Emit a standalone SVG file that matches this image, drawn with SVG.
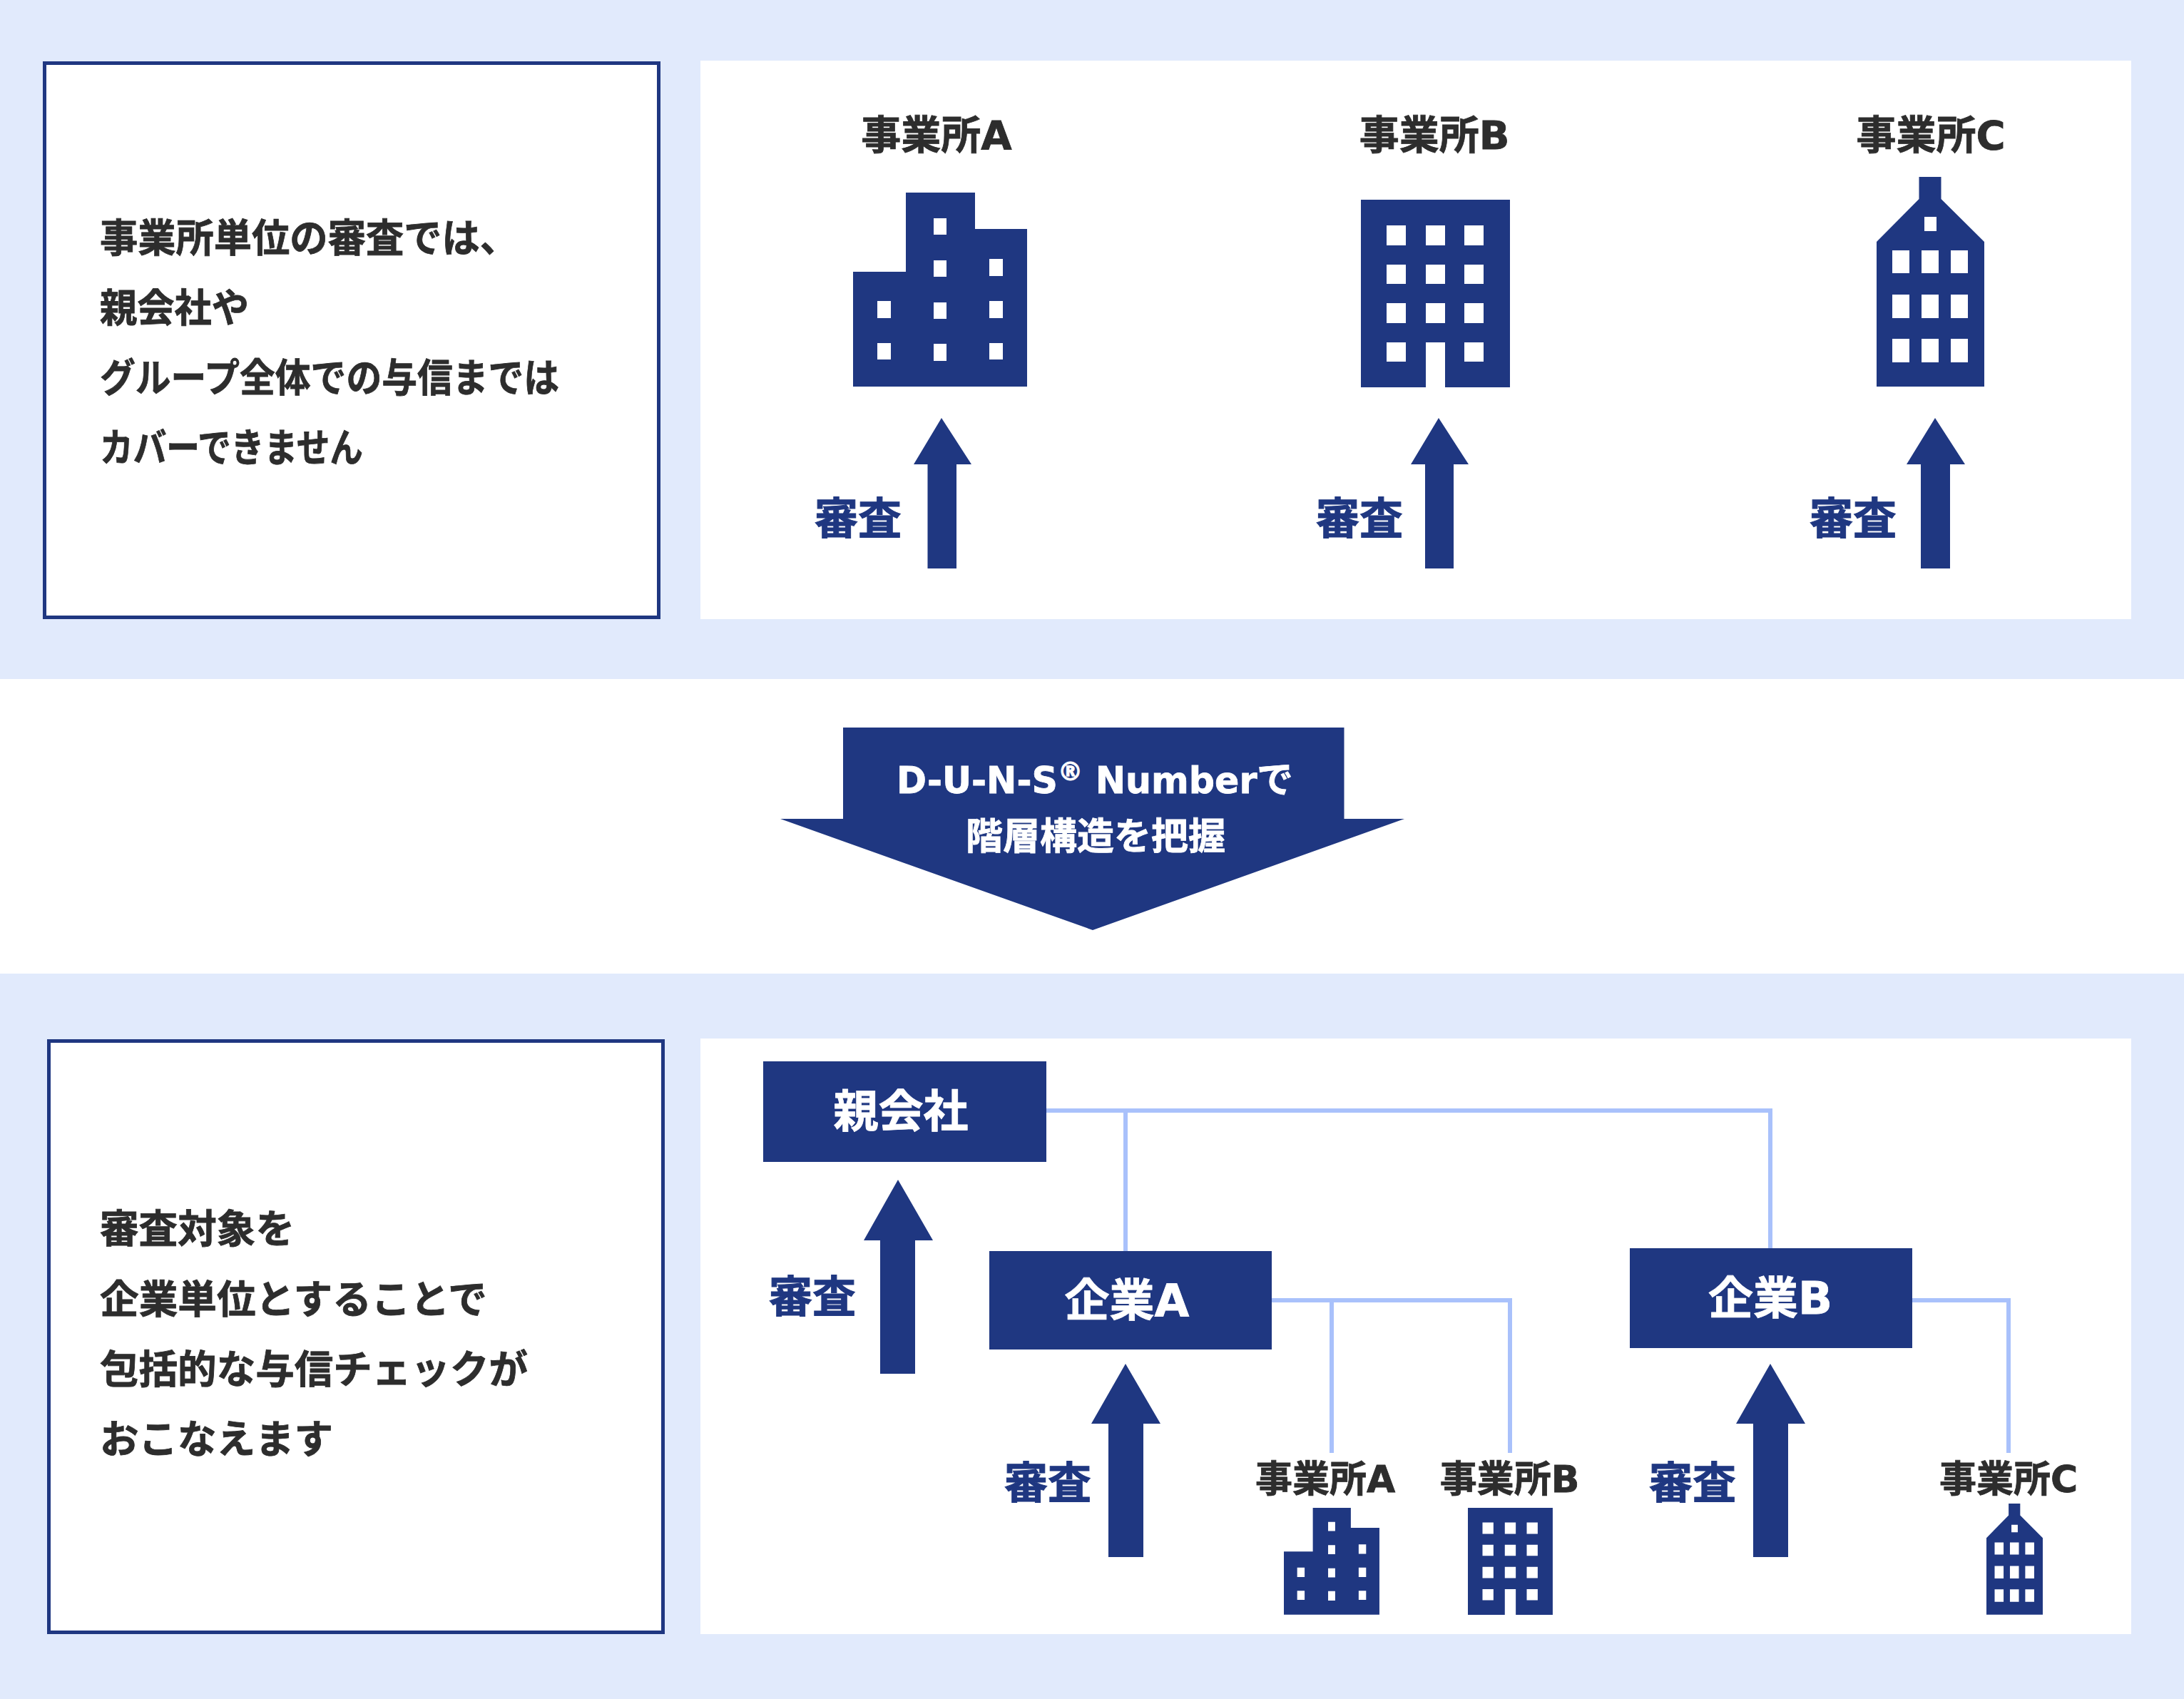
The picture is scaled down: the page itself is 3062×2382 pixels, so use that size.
<svg xmlns="http://www.w3.org/2000/svg" width="3062" height="2382" viewBox="0 0 3062 2382">
<style>
text{font-family:"DejaVu Sans","Noto Sans CJK JP",sans-serif;font-weight:700}
.t{font-size:55px;fill:#2d2d2d;stroke:#2d2d2d;stroke-width:.8}
.l{font-size:56px;fill:#2d2d2d;text-anchor:middle;stroke:#2d2d2d;stroke-width:.8}
.s{font-size:52px;fill:#2d2d2d;text-anchor:middle;stroke:#2d2d2d;stroke-width:.8}
.r{font-size:61px;fill:#1f3781;text-anchor:middle;stroke:#1f3781;stroke-width:1}
.b{font-size:63px;fill:#fff;text-anchor:middle;stroke:#fff;stroke-width:.8}
.a{font-size:52px;fill:#fff;text-anchor:middle;stroke:#fff;stroke-width:.8}
.band{fill:#e1eafc}
.panel{fill:#fff}
.box{fill:#fff;stroke:#1f3781;stroke-width:5}
.n{fill:#1f3781}
.w{fill:#fff}
.c{fill:none;stroke:#a9c1fb;stroke-width:6}
</style>
<defs>
<g id="bldA"><path class="n" d="M1196 381H1270V270H1367V321H1440V542H1196Z"/><path class="w" d="M1309 306h18v23h-18zM1309 365h18v23h-18zM1387 363h19v24h-19zM1230 422h19v24h-19zM1309 424h18v23h-18zM1387 422h19v24h-19zM1230 481h19v23h-19zM1309 482h18v24h-18zM1387 481h19v23h-19z"/></g>
<g id="bldB"><path class="n" d="M1908 280H2117V543H2026V480H1999V543H1908Z"/><path class="w" d="M1944 316h27v28h-27zM1999 316h27v28h-27zM2053 316h27v28h-27zM1944 371h27v27h-27zM1999 371h27v27h-27zM2053 371h27v27h-27zM1944 425h27v28h-27zM1999 425h27v28h-27zM2053 425h27v28h-27zM1944 480h27v27h-27zM2053 480h27v27h-27z"/></g>
<g id="bldC"><path class="n" d="M2690.500 248H2721.500V279L2782 339V542H2631V339L2690.500 279Z"/><path class="w" d="M2698 304h17v20h-17zM2653 351h24v32h-24zM2694 351h24v32h-24zM2735 351h24v32h-24zM2653 413h24v33h-24zM2694 413h24v33h-24zM2735 413h24v33h-24zM2653 475h24v33h-24zM2694 475h24v33h-24zM2735 475h24v33h-24z"/></g>
</defs>
<rect width="3062" height="2382" fill="#fff"/>
<rect class="band" width="3062" height="952"/>
<rect class="band" y="1365" width="3062" height="1017"/>
<rect class="panel" x="982" y="85" width="2006" height="783"/>
<rect class="panel" x="982" y="1456" width="2006" height="835"/>

<g id="note-top"><rect class="box" x="62.500" y="88.500" width="861" height="777"/>
<text class="t" x="140" y="353" textLength="586" lengthAdjust="spacingAndGlyphs">事業所単位の審査では、</text>
<text class="t" x="140" y="451" textLength="209" lengthAdjust="spacingAndGlyphs">親会社や</text>
<text class="t" x="140" y="549" textLength="644" lengthAdjust="spacingAndGlyphs">グループ全体での与信までは</text>
<text class="t" x="140" y="647" textLength="369" lengthAdjust="spacingAndGlyphs">カバーできません</text></g>

<g id="office-a-top"><text class="l" x="1313" y="209">事業所A</text><use href="#bldA"/></g>
<g id="office-b-top"><text class="l" x="2011" y="209">事業所B</text><use href="#bldB"/></g>
<g id="office-c-top"><text class="l" x="2707" y="209">事業所C</text><use href="#bldC"/></g>

<g id="review-a-top"><path class="n" d="M1320 586L1362 651H1341V797H1300.500V651H1281Z"/><text class="r" x="1203" y="749">審査</text></g>
<g id="review-b-top"><path class="n" d="M2017 586L2059 651H2038V797H1998V651H1978Z"/><text class="r" x="1906" y="749">審査</text></g>
<g id="review-c-top"><path class="n" d="M2713 586L2755 651H2734V797H2693V651H2673Z"/><text class="r" x="2598" y="749">審査</text></g>

<g id="duns-arrow"><path class="n" d="M1182 1020H1884.500V1148H1969L1532 1304L1094 1148H1182Z"/>
<text class="a" x="1535" y="1112" textLength="556" lengthAdjust="spacingAndGlyphs">D-U-N-S<tspan font-size="36" dy="-18">®</tspan><tspan dy="18"> Numberで</tspan></text>
<text class="a" x="1536" y="1191">階層構造を把握</text></g>

<g id="connectors">
<path class="c" d="M1467 1557H2482V1750M1578 1557V1754"/>
<path class="c" d="M1783 1823H2117V2037M1867 1823V2037"/>
<path class="c" d="M2681 1823H2816V2037"/>
</g>

<g id="note-bottom"><rect class="box" x="68.500" y="1459.500" width="861" height="829"/>
<text class="t" x="140" y="1742" textLength="273" lengthAdjust="spacingAndGlyphs">審査対象を</text>
<text class="t" x="140" y="1841" textLength="543" lengthAdjust="spacingAndGlyphs">企業単位とすることで</text>
<text class="t" x="140" y="1939" textLength="600" lengthAdjust="spacingAndGlyphs">包括的な与信チェックが</text>
<text class="t" x="140" y="2037" textLength="327" lengthAdjust="spacingAndGlyphs">おこなえます</text></g>

<g id="parent"><rect class="n" x="1070" y="1488" width="397" height="141"/><text class="b" x="1263" y="1580">親会社</text></g>
<g id="company-a"><rect class="n" x="1387" y="1754" width="396" height="138"/><text class="b" x="1580" y="1845">企業A</text></g>
<g id="company-b"><rect class="n" x="2285" y="1750" width="396" height="140"/><text class="b" x="2482" y="1842">企業B</text></g>

<g id="review-parent"><path class="n" d="M1259 1654L1308 1739H1283V1926H1234V1739H1211Z"/><text class="r" x="1139" y="1840">審査</text></g>
<g id="review-company-a"><path class="n" d="M1578 1912L1627 1996H1603V2183H1554V1996H1530Z"/><text class="r" x="1469" y="2101">審査</text></g>
<g id="review-company-b"><path class="n" d="M2482 1912L2531 1996H2507V2183H2458V1996H2434Z"/><text class="r" x="2373" y="2101">審査</text></g>

<g id="office-a-bottom"><text class="s" x="1858" y="2092">事業所A</text><use href="#bldA" transform="translate(1800 2114) scale(.549 .551) translate(-1196 -270)"/></g>
<g id="office-b-bottom"><text class="s" x="2116.500" y="2092">事業所B</text><use href="#bldB" transform="translate(2058 2114) scale(.569 .57) translate(-1908 -280)"/></g>
<g id="office-c-bottom"><text class="s" x="2816" y="2092">事業所C</text><use href="#bldC" transform="translate(2785 2108) scale(.523 .53) translate(-2631 -248)"/></g>
</svg>
